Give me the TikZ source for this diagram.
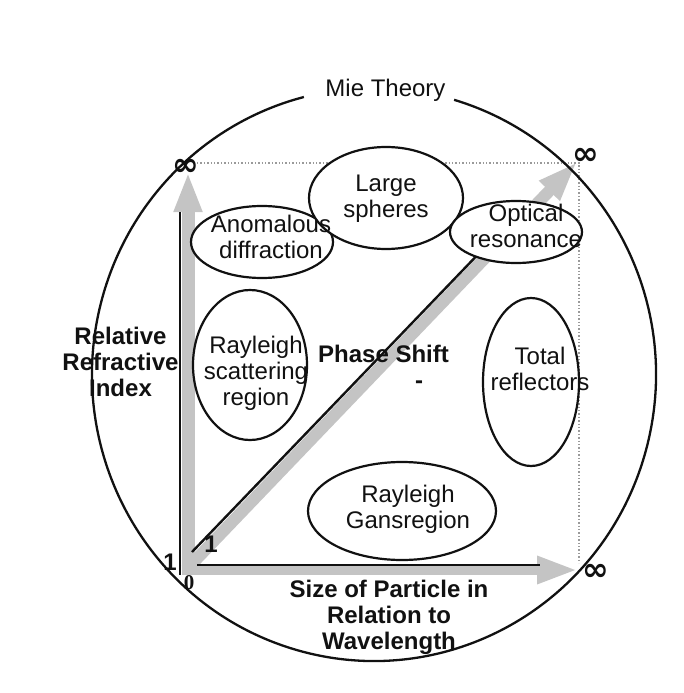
\documentclass[tikz,border=0pt]{standalone}
\usepackage{fontspec}
\setmainfont{Liberation Sans}
\newfontfamily\serffont{Liberation Serif}
\newfontfamily\symbfont{DejaVu Sans}
\usepackage{tikz}
\usetikzlibrary{arrows.meta,shapes.geometric,calc}
\definecolor{cShade}{HTML}{C4C4C4}
\definecolor{cDot}{HTML}{9A9A9A}
\definecolor{cInk}{HTML}{111111}
\tikzset{
  >=Stealth,
  zone/.style ={ellipse,draw=cInk,line width=2.2pt,fill=white,inner sep=0pt},
  ztxt/.style ={align=center,inner sep=0pt,text=cInk,font=\fontsize{24}{26}\selectfont},
  axtxt/.style={ztxt,font=\fontsize{24}{26}\selectfont\bfseries},
  shaft/.style={cShade,-{Triangle[length=40pt,width=26pt]}},
  ink/.style  ={draw=cInk,line width=2.4pt},
  guide/.style={cDot,dotted,line width=1.4pt},
  inf/.style  ={inner sep=0pt,text=cInk,font=\symbfont\fontsize{32}{32}\selectfont\bfseries},
}

\begin{document}
\begin{tikzpicture}[x=1pt,y=-1pt]
\useasboundingbox (0,0) rectangle (683,693);
% grey axes
\coordinate (o)   at (188,574);
\coordinate (oy)  at (188,172);
\coordinate (ox0) at (182,570);
\coordinate (ox)  at (577,570);
\coordinate (od)  at (186,570);
\coordinate (tip) at (577,162);
\draw[shaft,line width=13pt] (o) -- (oy);
\draw[shaft,line width=9pt] (ox0) -- (ox);
\draw[shaft,line width=12pt] (od) -- (tip);
% black lines beside them
\coordinate (ya) at (180,212);
\coordinate (yb) at (180,575);
\coordinate (xa) at (197,565);
\coordinate (xb) at (540,565);
\coordinate (da) at (192,552);
\coordinate (db) at (487,245);
\draw[ink] (ya) -- (yb);
\draw[ink] (xa) -- (xb);
\draw[ink] (da) -- (db);
% dotted frame
\coordinate (ga) at (197,163);
\coordinate (gc) at (579,163);
\coordinate (gb) at (579,563);
\draw[guide] (ga) -- (gc) -- (gb);
% regions
\node[zone,minimum width=142pt,minimum height=72pt]  (anom)  at (262,242) {};
\node[zone,minimum width=154pt,minimum height=102pt] (large) at (386,198) {};
\node[zone,minimum width=132pt,minimum height=62pt]  (optic) at (516,232) {};
\node[zone,minimum width=114pt,minimum height=150pt] (rscat) at (250,365) {};
\node[zone,minimum width=96pt,minimum height=168pt]  (total) at (531,382) {};
\node[zone,minimum width=188pt,minimum height=98pt]  (rgans) at (402,511) {};
\node[ztxt] (anomt)  at (271,237) {Anomalous\\diffraction};
\node[ztxt] (larget) at (386,199) {Large\\spheres};
\node[ztxt] (optict) at (526,226) {Optical\\resonance};
\node[ztxt] (rscatt) at (256,373) {Rayleigh\\scattering\\region};
\node[ztxt] (totalt) at (540,369) {Total\\reflectors};
\node[ztxt] (rganst) at (408,509) {Rayleigh\\Gansregion};
% axis texts
\node[axtxt] (ylab) at (120.5,362) {Relative\\Refractive\\Index};
\node[axtxt] (xlab) at (389,617) {Size of Particle in\\Relation to\\Wavelength};
\node[axtxt,anchor=base] (phase) at (383.5,362) {Phase Shift};
\node[axtxt] (minus) at (419,385) {-};
\node[axtxt] (one)  at (170,562) {1};
\node[axtxt] (oned) at (211,544) {1};
\node[inner sep=0pt,text=cInk,font=\serffont\fontsize{21}{21}\selectfont\bfseries] (zero) at (189,583) {0};
\node[inf] (infy) at (186,167) {∞};
\node[inf] (infd) at (586,156) {∞};
\node[inf] (infx) at (596,572) {∞};
% outer circle, open at the title
\coordinate (ctr) at (374,374.5);
\draw[cInk,line width=2.3pt] (ctr) ++(286.5:282 and 286.5)
   arc[start angle=286.5,end angle=615.6,x radius=282,y radius=286.5];
\node[ztxt,anchor=base] (mie) at (385.5,96) {Mie Theory};
\end{tikzpicture}
\end{document}
